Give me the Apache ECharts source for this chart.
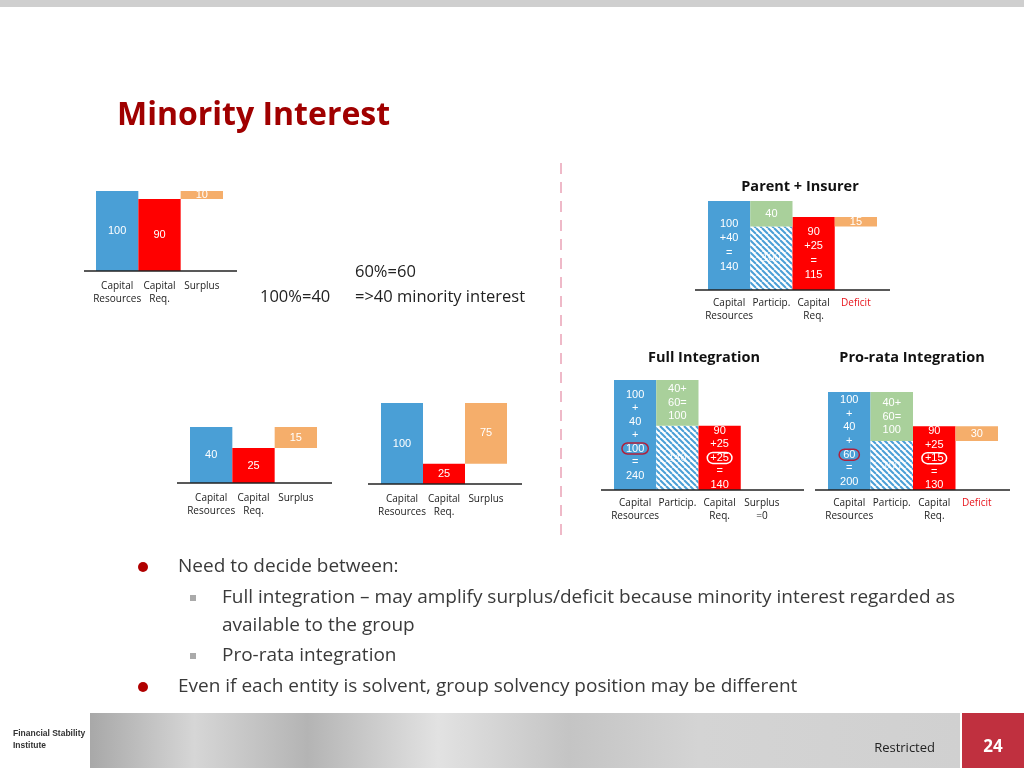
<!DOCTYPE html>
<html>
<head>
<meta charset="utf-8">
<script src="https://cdn.jsdelivr.net/npm/echarts@6/dist/echarts.min.js"></script>
<style>
  html, body { margin: 0; padding: 0; background: #fff; }
  #slide { width: 1024px; height: 768px; }
</style>
</head>
<body>
<div id="slide"></div>
<script>
// stand-alone entities: [capital resources, capital requirement, surplus]
var soloCats = ['Capital\nResources', 'Capital\nReq.', 'Surplus'];
var parentSolo = [100, 90, 10];
var insurerSolo = [40, 25, 15];
var insurerHundred = [100, 25, 75];

// group views: [resources, participation (hatched), participation (own funds), requirement, gap]
var groupCats = ['Capital\nResources', 'Particip.', 'Capital\nReq.', 'Deficit'];
var fullCats = ['Capital\nResources', 'Particip.', 'Capital\nReq.', 'Surplus\n=0'];
var parentInsurer = [140, 100, 40, 115, 15];
var fullIntegration = [240, 140, 100, 140, 0];
var proRata = [200, 100, 100, 130, 30];

var parentInsurerLabels = ['100\n+40\n=\n140', '100', '40', '90\n+25\n=\n115', '15'];
var fullLabels = ['100\n+\n40\n+\n{rc|100}\n=\n240', '140', '40+\n60=\n100', '90\n+25\n{wc|+25}\n=\n140', ''];
var proRataLabels = ['100\n+\n40\n+\n{rc|60}\n=\n200', '100', '40+\n60=\n100', '90\n+25\n{wc|+15}\n=\n130', '30'];

var BLUE = '#4A9FD6', RED = '#FF0000', ORANGE = '#F5AE6B', GREEN = '#A9D09B';
var TXT = "'Open Sans', 'Noto Sans', sans-serif";
var NUM = "'Liberation Sans', Arial, sans-serif";

// hatched fill for the participation
var hatch = document.createElement('canvas');
hatch.width = 6; hatch.height = 6;
var hc = hatch.getContext('2d');
hc.fillStyle = '#ffffff';
hc.fillRect(0, 0, 6, 6);
hc.strokeStyle = BLUE;
hc.lineWidth = 2;
[-6, 0, 6].forEach(function (k) {
    hc.beginPath();
    hc.moveTo(k, 0);
    hc.lineTo(k + 6, 6);
    hc.stroke();
});

var myChart = echarts.init(document.getElementById('slide'));

var grids = [
    { left: 96, top: 191, width: 127, height: 80 },
    { left: 190, top: 427, width: 127, height: 56 },
    { left: 381, top: 403, width: 126, height: 81 },
    { left: 708, top: 201, width: 169, height: 89 },
    { left: 614, top: 380, width: 169, height: 110 },
    { left: 828, top: 392, width: 170, height: 98 }
];
var maxes = [100, 40, 100, 140, 240, 200];
var cats = [soloCats, soloCats, soloCats, groupCats, fullCats, groupCats];

var xAxes = cats.map(function (c, i) {
    return {
        type: 'category', gridIndex: i, data: c,
        axisLine: { show: false }, axisTick: { show: false },
        axisLabel: {
            interval: 0, margin: i < 3 ? 9 : 7, color: '#222', fontFamily: TXT, fontSize: 10, lineHeight: 13,
            formatter: function (v) { return v === 'Deficit' ? '{d|Deficit}' : v; },
            rich: { d: { color: '#E8141C', fontFamily: TXT, fontSize: 10, lineHeight: 13 } }
        }
    };
});
var yAxes = maxes.map(function (m, i) {
    return { type: 'value', gridIndex: i, min: 0, max: m, show: false };
});

var inLabel = {
    show: true, position: 'inside', color: '#fff', fontFamily: NUM, fontSize: 11, lineHeight: 13.5,
    rich: {
        rc: { color: '#fff', fontFamily: NUM, fontSize: 11, lineHeight: 13.5, borderColor: '#B0203C', borderWidth: 1.5, borderRadius: 7, padding: [0, 4] },
        wc: { color: '#fff', fontFamily: NUM, fontSize: 11, lineHeight: 13.5, borderColor: '#fff', borderWidth: 1.5, borderRadius: 7, padding: [0, 3] }
    }
};

function soloSeries(i, v) {
    var colors = [BLUE, RED, ORANGE];
    return [
        {
            type: 'bar', xAxisIndex: i, yAxisIndex: i, stack: 's' + i, silent: true,
            barCategoryGap: 0, itemStyle: { color: 'transparent' },
            data: [0, 0, v[1]]
        },
        {
            type: 'bar', xAxisIndex: i, yAxisIndex: i, stack: 's' + i,
            barCategoryGap: 0, label: inLabel,
            data: v.map(function (d, k) { return { value: d, itemStyle: { color: colors[k] } }; })
        }
    ];
}

function groupSeries(i, v, labels, lh) {
    var lab = Object.assign({}, inLabel, { lineHeight: lh });
    var none = { show: false };
    return [
        {
            type: 'bar', xAxisIndex: i, yAxisIndex: i, stack: 'g' + i,
            barCategoryGap: 0,
            data: [
                { value: v[0], itemStyle: { color: BLUE }, label: Object.assign({}, lab, { formatter: labels[0] }) },
                { value: v[1], itemStyle: { color: { image: hatch, repeat: 'repeat' } }, label: Object.assign({}, lab, { formatter: labels[1], color: 'rgba(255,255,255,0.8)' }) },
                { value: v[3], itemStyle: { color: RED }, label: Object.assign({}, lab, { formatter: labels[3] }) },
                { value: v[1], itemStyle: { color: 'transparent' }, label: none }
            ]
        },
        {
            type: 'bar', xAxisIndex: i, yAxisIndex: i, stack: 'g' + i,
            barCategoryGap: 0,
            data: [
                '-',
                { value: v[2], itemStyle: { color: GREEN }, label: Object.assign({}, lab, { formatter: labels[2] }) },
                '-',
                v[4] > 0 ? { value: v[4], itemStyle: { color: ORANGE }, label: Object.assign({}, lab, { formatter: labels[4] }) } : '-'
            ]
        }
    ];
}

var series = [].concat(
    soloSeries(0, parentSolo),
    soloSeries(1, insurerSolo),
    soloSeries(2, insurerHundred),
    groupSeries(3, parentInsurer, parentInsurerLabels, 14.5),
    groupSeries(4, fullIntegration, fullLabels, 13.5),
    groupSeries(5, proRata, proRataLabels, 13.7)
);

function txt(x, y, s, size, opts) {
    opts = opts || {};
    return {
        type: 'text', z: 10,
        style: {
            x: x, y: y, text: s,
            font: (opts.weight || 'normal') + ' ' + size + 'px ' + (opts.family || TXT),
            fill: opts.color || '#3a3a3a',
            textAlign: opts.align || 'left', align: opts.align || 'left',
            textVerticalAlign: 'middle', verticalAlign: 'middle'
        }
    };
}
function hline(x1, x2, y) {
    return { type: 'line', shape: { x1: x1, y1: y, x2: x2, y2: y }, style: { stroke: '#222', lineWidth: 1.5 }, z: 10 };
}

var graphics = [
    // top band
    { type: 'rect', shape: { x: 0, y: 0, width: 1024, height: 7 }, style: { fill: '#CFCFCF' } },
    txt(117, 116, 'Minority Interest', 32, { weight: 'bold', color: '#A00000' }),
    // chart baselines
    hline(84, 237, 271), hline(177, 332, 483), hline(368, 522, 484),
    hline(695, 890, 290), hline(601, 804, 490), hline(815, 1010, 490),
    // separator
    { type: 'line', shape: { x1: 561, y1: 163, x2: 561, y2: 535 }, style: { stroke: '#EFB9C8', lineWidth: 2, lineDash: [11, 8] } },
    txt(260, 297, '100%=40', 16.5, { color: '#222' }),
    txt(355, 272, '60%=60', 16.5, { color: '#222' }),
    txt(355, 297, '=>40 minority interest', 16.5, { color: '#222' }),
    txt(800, 187, 'Parent + Insurer', 14.5, { weight: 'bold', align: 'center', color: '#111' }),
    txt(704, 358, 'Full Integration', 14.5, { weight: 'bold', align: 'center', color: '#111' }),
    txt(912, 358, 'Pro-rata Integration', 14.5, { weight: 'bold', align: 'center', color: '#111' }),
    // bullets
    { type: 'circle', shape: { cx: 143, cy: 567, r: 5 }, style: { fill: '#B00000' } },
    { type: 'circle', shape: { cx: 143, cy: 687, r: 5 }, style: { fill: '#B00000' } },
    { type: 'rect', shape: { x: 190, y: 595, width: 6, height: 6 }, style: { fill: '#AAAAAA' } },
    { type: 'rect', shape: { x: 190, y: 653, width: 6, height: 6 }, style: { fill: '#AAAAAA' } },
    txt(178, 567, 'Need to decide between:', 19),
    txt(222, 598, 'Full integration \u2013 may amplify surplus/deficit because minority interest regarded as', 19),
    txt(222, 626, 'available to the group', 19),
    txt(222, 656, 'Pro-rata integration', 19),
    txt(178, 687, 'Even if each entity is solvent, group solvency position may be different', 19),
    // footer
    {
        type: 'rect', shape: { x: 90, y: 713, width: 870, height: 55 },
        style: {
            fill: new echarts.graphic.LinearGradient(0, 0, 1, 0, [
                { offset: 0, color: '#A8A8A8' }, { offset: 0.12, color: '#D6D6D6' },
                { offset: 0.25, color: '#B4B4B4' }, { offset: 0.4, color: '#E2E2E2' },
                { offset: 0.55, color: '#C4C4C4' }, { offset: 0.7, color: '#D4D4D4' },
                { offset: 1, color: '#D0D0D0' }
            ])
        }
    },
    { type: 'rect', shape: { x: 962, y: 713, width: 62, height: 55 }, style: { fill: '#C0303F' } },
    txt(13, 734, 'Financial Stability', 8.5, { weight: 'bold', color: '#333', family: "'Liberation Sans Narrow', 'Liberation Sans', sans-serif" }),
    txt(13, 746, 'Institute', 8.5, { weight: 'bold', color: '#333', family: "'Liberation Sans Narrow', 'Liberation Sans', sans-serif" }),
    txt(935, 748, 'Restricted', 13, { align: 'right', color: '#222' }),
    txt(993, 747, '24', 17, { weight: 'bold', align: 'center', color: '#fff' })
];

var option = {
    animation: false,
    grid: grids,
    xAxis: xAxes,
    yAxis: yAxes,
    series: series,
    graphic: graphics
};
myChart.setOption(option);
</script>
</body>
</html>
